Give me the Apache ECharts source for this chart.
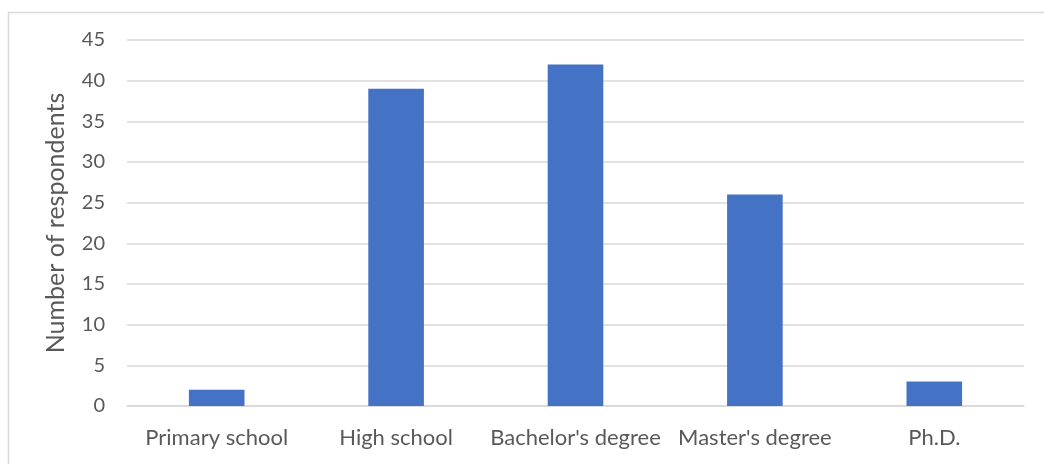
<!DOCTYPE html>
<html>
<head>
<meta charset="utf-8">
<style>
  html, body { margin: 0; padding: 0; background: #ffffff; }
  #chart { width: 1044px; height: 464px; }
</style>
<script src="https://cdn.jsdelivr.net/npm/echarts@6/dist/echarts.min.js"></script>
</head>
<body>
<div id="chart"></div>
<script>
// Education level of survey respondents
const categories = ["Primary school", "High school", "Bachelor's degree", "Master's degree", "Ph.D."];
const respondents = [2, 39, 42, 26, 3];
const yTicks = { min: 0, max: 45, interval: 5 };

const textColor = '#595959';
const gridColor = '#d9d9d9';
const fontFamily = 'Lato, Open Sans, sans-serif';

const chart = echarts.init(document.getElementById('chart'), null, { renderer: 'canvas' });
chart.setOption({
  animation: false,
  backgroundColor: '#ffffff',
  graphic: [{
    type: 'rect',
    left: 6, top: 10,
    shape: { width: 1100, height: 500 },
    style: { fill: 'none', stroke: gridColor, lineWidth: 1.5 },
    silent: true
  }],
  grid: { left: 127, right: 20, top: 40, bottom: 58 },
  xAxis: {
    type: 'category',
    data: categories,
    axisTick: { show: false },
    axisLine: { lineStyle: { color: gridColor, width: 1.5 } },
    axisLabel: { color: textColor, fontSize: 22, fontFamily: fontFamily, margin: 21, interval: 0 }
  },
  yAxis: {
    type: 'value',
    min: yTicks.min, max: yTicks.max, interval: yTicks.interval,
    name: 'Number of respondents',
    nameLocation: 'middle',
    nameGap: 59,
    nameTextStyle: { color: textColor, fontSize: 25, fontFamily: fontFamily },
    axisLine: { show: false },
    axisTick: { show: false },
    axisLabel: { color: textColor, fontSize: 20, fontFamily: fontFamily, margin: 22 },
    splitLine: { lineStyle: { color: gridColor, width: 1.5 } }
  },
  series: [{
    type: 'bar',
    data: respondents,
    barWidth: '31%',
    itemStyle: { color: '#4472c4' }
  }]
});
</script>
</body>
</html>
